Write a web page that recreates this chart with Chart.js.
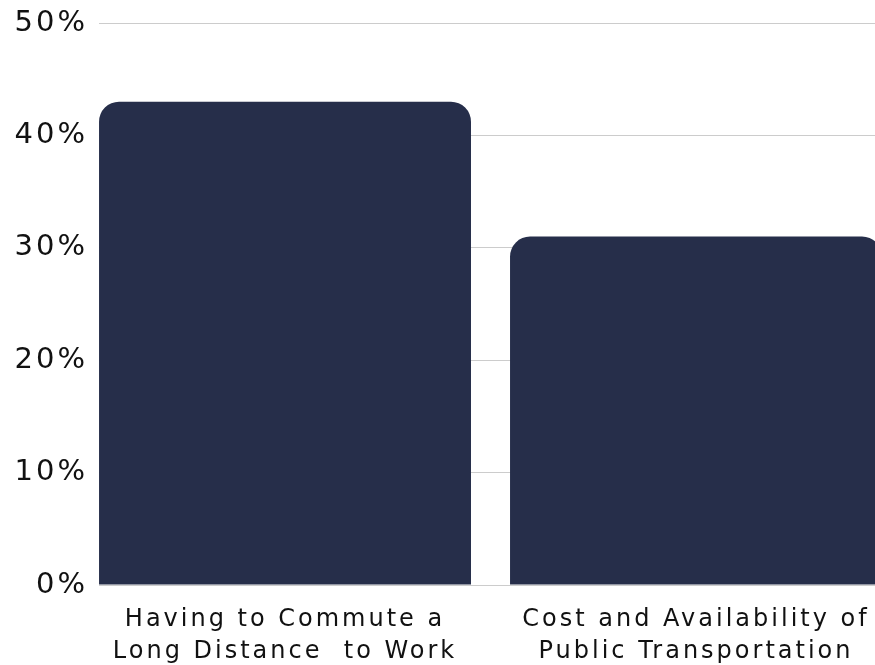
<!DOCTYPE html>
<html>
<head>
<meta charset="utf-8">
<script src="https://cdn.jsdelivr.net/npm/chart.js@4"></script>
<style>
html,body{margin:0;padding:0;background:#fff;}
#wrap{width:875px;height:665px;position:relative;}
</style>
</head>
<body>
<div id="wrap"><canvas id="c"></canvas></div>
<script>
const categories = [
  ["Having to Commute a", "Long Distance  to Work"],
  ["Cost and Availability of", "Public Transportation"]
];
const values = [43, 31];
const yTicks = [0, 10, 20, 30, 40, 50];

const spacing = {
  id: 'spacing',
  beforeLayout(chart){ chart.ctx.letterSpacing = '3px'; },
  beforeDraw(chart){ chart.ctx.letterSpacing = '3px'; }
};

new Chart(document.getElementById('c'), {
  type: 'bar',
  data: {
    datasets: [{
      data: values.map((v, i) => ({x: i, y: v})),
      backgroundColor: '#262e4a',
      borderRadius: 20,
      borderSkipped: 'start',
      categoryPercentage: 1,
      barPercentage: 0.905
    }]
  },
  plugins: [spacing],
  options: {
    responsive: true,
    maintainAspectRatio: false,
    animation: false,
    layout: {padding: {top: 23, right: 0, left: 0, bottom: 0}},
    plugins: {legend: {display: false}, tooltip: {enabled: false}},
    scales: {
      x: {
        type: 'linear',
        min: -0.4526,
        max: 1.4355,
        grace: 0,
        bounds: 'data',
        offset: false,
        grid: {display: false, offset: false},
        border: {display: false},
        afterBuildTicks(scale){ scale.ticks = categories.map((_, i) => ({value: i})); },
        afterFit(scale){ scale.height = 80; scale.paddingLeft = 0; scale.paddingRight = 0; },
        ticks: {
          autoSkip: false,
          includeBounds: false,
          maxRotation: 0,
          padding: 11,
          color: '#111',
          font: {family: 'DejaVu Sans', size: 24, lineHeight: 1.33},
          callback: (v) => categories[v]
        }
      },
      y: {
        min: 0,
        max: 50,
        afterBuildTicks(scale){ scale.ticks = yTicks.map(v => ({value: v})); },
        afterFit(scale){ scale.width = 99; scale.paddingTop = 0; scale.paddingBottom = 0; },
        grid: {color: '#cccccc', lineWidth: 1, drawTicks: false},
        border: {display: false},
        ticks: {
          padding: 11,
          color: '#111',
          font: {family: 'DejaVu Sans', size: 29},
          callback: (v) => v + '%'
        }
      }
    }
  }
});
</script>
</body>
</html>
